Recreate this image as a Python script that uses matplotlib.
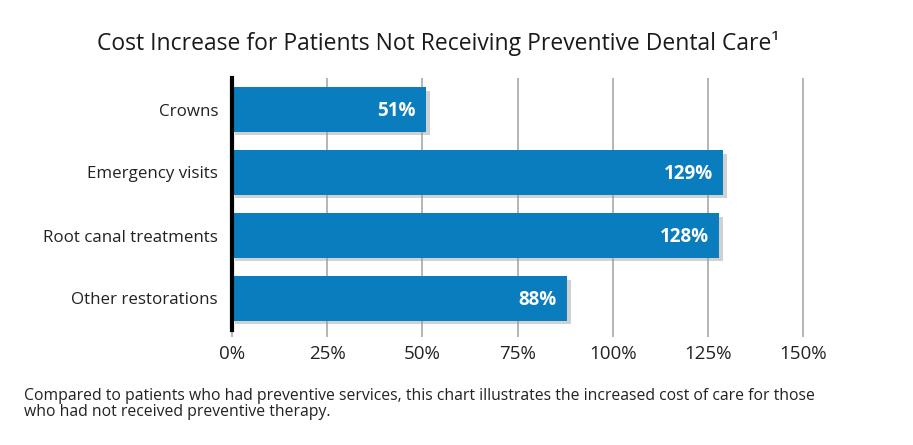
import matplotlib
matplotlib.use("Agg")
import matplotlib.pyplot as plt
import matplotlib.patheffects as pe

categories = ["Crowns", "Emergency visits", "Root canal treatments", "Other restorations"]
values = [51, 129, 128, 88]
xticks = [0, 25, 50, 75, 100, 125, 150]
xtick_labels = ["0%", "25%", "50%", "75%", "100%", "125%", "150%"]
title = "Cost Increase for Patients Not Receiving Preventive Dental Care\u00b9"
footnote = ("Compared to patients who had preventive services, this chart illustrates the increased cost of care for those\n"
            "who had not received preventive therapy.")

plt.rcParams['font.family'] = ['Open Sans', 'DejaVu Sans']

fig = plt.figure(figsize=(9.13, 4.45), dpi=100)
ax = fig.add_axes([232/913, 1-330/445, 573/913, 252/445])

bar_color = "#0a7dbf"
bars = ax.barh(range(len(categories)), values, height=0.7, color=bar_color, zorder=3)
for b in bars:
    b.set_path_effects([pe.SimplePatchShadow(offset=(2.5, -2.5), shadow_rgbFace="#999999", alpha=0.45), pe.Normal()])

for i, v in enumerate(values):
    ax.text(v - 2.7, i + 0.02, f"{v}%", color="white", fontweight="bold", fontsize=13.5,
            ha="right", va="center", zorder=4)

ax.set_xlim(0, 150.5)
ax.set_ylim(3.5, -0.5)
ax.set_yticks(range(len(categories)))
ax.set_yticklabels(categories, fontsize=12.2, color="#222222")
ax.set_xticks(xticks)
ax.set_xticklabels(xtick_labels, fontsize=13.5, color="#222222")

ax.grid(axis="x", color="#b0b0b0", linewidth=1.3, zorder=0)
ax.tick_params(axis="y", length=0, pad=10)
ax.tick_params(axis="x", length=5, color="#b0b0b0", width=1.3, pad=6)

for s in ["top", "right", "bottom"]:
    ax.spines[s].set_visible(False)
ax.spines["left"].set_linewidth(3)
ax.spines["left"].set_color("black")
ax.spines["left"].set_zorder(5)

fig.text(438/913, 1-43/445, title, ha="center", va="center", fontsize=16.5, color="#1a1a1a")
fig.text(24/913, 1-404/445, footnote, ha="left", va="center", fontsize=11.3, color="#222222",
         linespacing=1.0)

fig.savefig("out.png", dpi=100)
